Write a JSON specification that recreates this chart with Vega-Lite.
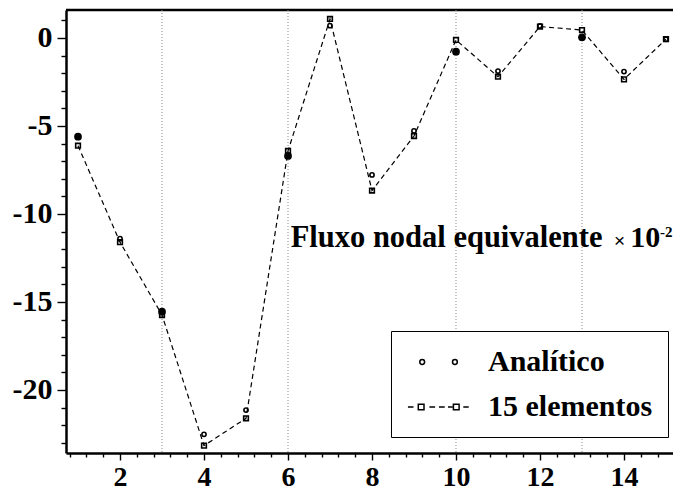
{
  "$schema": "https://vega.github.io/schema/vega-lite/v6.json",
  "width": 607,
  "height": 443,
  "autosize": {"type": "none"},
  "padding": {"left": 66, "top": 10, "right": 0, "bottom": 40},
  "background": "white",
  "config": {
    "view": {"stroke": "black", "strokeWidth": 2.5, "strokeDash": [607, 3000]},
    "font": "Liberation Serif",
    "axis": {"labelFont": "Liberation Serif", "labelFontWeight": "bold", "labelColor": "black"}
  },
  "datasets": {
    "analitico": [
      {"x": 1, "y": -5.61}, {"x": 2, "y": -11.4}, {"x": 3, "y": -15.55}, {"x": 4, "y": -22.52},
      {"x": 5, "y": -21.14}, {"x": 6, "y": -6.7}, {"x": 7, "y": 0.7}, {"x": 8, "y": -7.78},
      {"x": 9, "y": -5.28}, {"x": 10, "y": -0.78}, {"x": 11, "y": -1.88}, {"x": 12, "y": 0.68},
      {"x": 13, "y": 0.04}, {"x": 14, "y": -1.91}, {"x": 15, "y": -0.07}
    ],
    "elementos": [
      {"x": 1, "y": -6.12}, {"x": 2, "y": -11.6}, {"x": 3, "y": -15.74}, {"x": 4, "y": -23.16},
      {"x": 5, "y": -21.61}, {"x": 6, "y": -6.42}, {"x": 7, "y": 1.08}, {"x": 8, "y": -8.67},
      {"x": 9, "y": -5.57}, {"x": 10, "y": -0.11}, {"x": 11, "y": -2.2}, {"x": 12, "y": 0.65},
      {"x": 13, "y": 0.45}, {"x": 14, "y": -2.35}, {"x": 15, "y": -0.07}
    ],
    "grade": [{"x": 3}, {"x": 6}, {"x": 10}, {"x": 13}],
    "series": [{"serie": "Analítico"}, {"serie": "15 elementos"}]
  },
  "layer": [
    {
      "data": {"name": "grade"},
      "mark": {"type": "rule", "color": "#8a8a8a", "strokeWidth": 1, "strokeDash": [1, 2]},
      "encoding": {
        "x": {"field": "x", "type": "quantitative",
          "scale": {"domain": [0.714, 15.167], "nice": false, "zero": false}}
      }
    },
    {
      "data": {"name": "elementos"},
      "mark": {"type": "line", "color": "black", "strokeWidth": 1.2, "strokeDash": [5, 3.5]},
      "encoding": {
        "x": {"field": "x", "type": "quantitative",
          "axis": {"orient": "bottom", "tickCount": 100,
            "values": [0.8, 1.2, 1.6, 2, 2.4, 2.8, 3.2, 3.6, 4, 4.4, 4.8, 5.2, 5.6, 6, 6.4, 6.8, 7.2, 7.6, 8, 8.4, 8.8, 9.2, 9.6, 10, 10.4, 10.8, 11.2, 11.6, 12, 12.4, 12.8, 13.2, 13.6, 14, 14.4, 14.8],
            "title": null, "grid": false,
            "domainColor": "black", "domainWidth": 2.5, "tickColor": "black", "tickWidth": 1.4,
            "tickSize": {"condition": {"test": "datum.value % 2 == 0", "value": 7}, "value": 4},
            "labelExpr": "datum.value % 2 == 0 ? toString(datum.value) : ''",
            "labelFont": "Liberation Serif", "labelFontWeight": "bold", "labelFontSize": 28, "labelColor": "black",
            "labelPadding": 3, "labelFlush": false, "labelOverlap": false}},
        "y": {"field": "y", "type": "quantitative",
          "scale": {"domain": [-23.58, 1.59], "nice": false, "zero": false},
          "axis": {"orient": "left", "tickCount": 100,
            "values": [1, 0, -1, -2, -3, -4, -5, -6, -7, -8, -9, -10, -11, -12, -13, -14, -15, -16, -17, -18, -19, -20, -21, -22, -23],
            "title": null, "grid": false,
            "domainColor": "black", "domainWidth": 2.5, "tickColor": "black", "tickWidth": 1.4,
            "tickSize": {"condition": {"test": "datum.value % 5 == 0", "value": 9}, "value": 5},
            "labelExpr": "datum.value % 5 == 0 ? toString(datum.value) : ''",
            "labelFont": "Liberation Serif", "labelFontWeight": "bold", "labelFontSize": 30, "labelColor": "black",
            "labelPadding": 5, "labelOverlap": false}}
      }
    },
    {
      "data": {"name": "elementos"},
      "mark": {"type": "point", "shape": "square", "filled": false, "color": "black", "strokeWidth": 1.6, "size": 22, "opacity": 1},
      "encoding": {
        "x": {"field": "x", "type": "quantitative"},
        "y": {"field": "y", "type": "quantitative"}
      }
    },
    {
      "data": {"name": "analitico"},
      "mark": {"type": "point", "shape": "circle", "filled": false, "color": "black", "strokeWidth": 1.6, "size": 18, "opacity": 1},
      "encoding": {
        "x": {"field": "x", "type": "quantitative"},
        "y": {"field": "y", "type": "quantitative"}
      }
    },
    {
      "data": {"name": "analitico"},
      "transform": [{"filter": {"field": "x", "oneOf": [1, 3, 6, 10, 13]}}],
      "mark": {"type": "point", "shape": "circle", "filled": true, "color": "black", "size": 60, "opacity": 1},
      "encoding": {
        "x": {"field": "x", "type": "quantitative"},
        "y": {"field": "y", "type": "quantitative"}
      }
    },
    {
      "data": {"name": "series"},
      "transform": [{"filter": "false"}],
      "mark": {"type": "point", "filled": false, "color": "black"},
      "encoding": {
        "shape": {"field": "serie", "type": "nominal",
          "scale": {"domain": ["Analítico", "15 elementos"],
            "range": [
              "M-1.28,0 a0.16,0.16 0 1,0 0.32,0 a0.16,0.16 0 1,0 -0.32,0 M0.9,0 a0.16,0.16 0 1,0 0.32,0 a0.16,0.16 0 1,0 -0.32,0",
              "M-2.07,0 L-1.7,0 M-1.38,-0.19 L-1,-0.19 L-1,0.19 L-1.38,0.19 Z M-0.64,0 L-0.26,0 M0,0 L0.38,0 M0.6,0 L0.9,0 M0.96,-0.19 L1.34,-0.19 L1.34,0.19 L0.96,0.19 Z M1.62,0 L1.98,0"
            ]},
          "legend": {"title": null, "orient": "none", "legendX": 325, "legendY": 321, "direction": "vertical",
            "padding": 15, "strokeColor": "black", "fillColor": "white",
            "labelFont": "Liberation Serif", "labelFontWeight": "bold", "labelFontSize": 30, "labelColor": "black",
            "labelOffset": 33, "symbolOffset": 17, "labelLimit": 400, "symbolSize": 900, "symbolStrokeColor": "black",
            "symbolStrokeWidth": 1.5, "symbolFillColor": "transparent", "symbolOpacity": 1, "rowPadding": 14,
            "encode": {"legend": {"update": {"strokeWidth": {"value": 2}}}}}
        }
      }
    },
    {
      "data": {"values": [{"x": 6.064, "y": -11.9, "t": "Fluxo nodal equivalente"}]},
      "mark": {"type": "text", "align": "left", "baseline": "alphabetic", "font": "Liberation Serif", "fontWeight": "bold", "fontSize": 30.5, "color": "black"},
      "encoding": {
        "x": {"field": "x", "type": "quantitative"},
        "y": {"field": "y", "type": "quantitative"},
        "text": {"field": "t"}
      }
    },
    {
      "data": {"values": [{"x": 13.762, "y": -11.9, "t": "×"}]},
      "mark": {"type": "text", "align": "left", "baseline": "alphabetic", "font": "Liberation Sans", "fontSize": 19, "color": "black"},
      "encoding": {
        "x": {"field": "x", "type": "quantitative"},
        "y": {"field": "y", "type": "quantitative"},
        "text": {"field": "t"}
      }
    },
    {
      "data": {"values": [{"x": 14.15, "y": -11.9, "t": "10"}]},
      "mark": {"type": "text", "align": "left", "baseline": "alphabetic", "font": "Liberation Serif", "fontWeight": "bold", "fontSize": 30, "color": "black"},
      "encoding": {
        "x": {"field": "x", "type": "quantitative"},
        "y": {"field": "y", "type": "quantitative"},
        "text": {"field": "t"}
      }
    },
    {
      "data": {"values": [{"x": 14.86, "y": -11.31, "t": "-2"}]},
      "mark": {"type": "text", "align": "left", "baseline": "alphabetic", "font": "Liberation Serif", "fontWeight": "bold", "fontSize": 15, "color": "black"},
      "encoding": {
        "x": {"field": "x", "type": "quantitative"},
        "y": {"field": "y", "type": "quantitative"},
        "text": {"field": "t"}
      }
    }
  ]
}
